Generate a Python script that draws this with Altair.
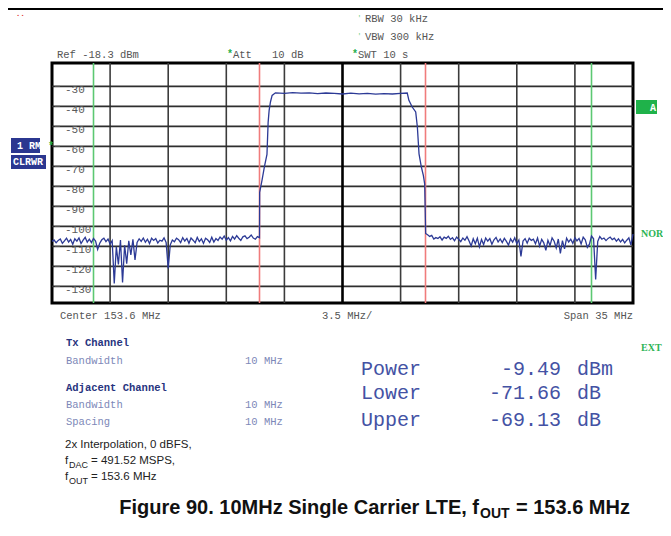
import altair as alt
import numpy as np
import pandas as pd

# ---------------- data ----------------
CENTER_MHZ = 153.6
SPAN_MHZ = 35.0
DIV_MHZ = 3.5
REF_DBM = -18.3
BOTTOM_DBM = -138.3

# sweep grid for the noise floor (MHz offset from centre)
left_noise_start, right_noise_start, sweep_step = -17.5, 5.125, 0.125

left_noise_db = [
    -107.5, -106.8, -108.2, -107.0, -106.3, -108.5, -107.2, -105.9, -107.8, -106.5,
    -108.9, -106.2, -107.4, -105.8, -108.6, -106.9, -105.5, -107.9, -106.4, -108.1,
    -106.0, -107.3, -111.5, -108.4, -106.7, -105.9, -107.6, -106.3, -108.8, -107.1,
    -128.5, -110.2, -119.0, -106.8, -128.0, -109.4, -118.6, -107.2, -114.3, -106.5,
    -116.8, -108.0, -106.2, -107.5, -105.8, -107.9, -106.4, -108.6, -105.9, -107.0,
    -106.1, -108.3, -106.9, -107.4, -105.7, -108.0, -121.0, -109.2, -106.8, -107.7,
    -105.9, -106.6, -108.1, -105.6, -107.3, -106.0, -108.4, -105.8, -106.9, -108.2,
    -105.5, -107.6, -106.2, -108.5, -105.9, -106.7, -108.0, -105.4, -107.8, -106.1,
    -107.0, -105.3, -106.4, -104.8, -106.9, -105.6, -107.2, -105.0, -106.3, -104.6,
    -105.9, -107.0, -105.2, -104.7, -106.1, -105.4, -104.3, -105.8, -106.4, -105.1,
    -105.6,
]

right_noise_db = [
    -104.2, -105.0, -104.5, -106.3, -105.6, -106.1, -105.2, -106.8, -105.4, -106.0,
    -104.9, -106.5, -105.7, -107.2, -105.3, -106.4, -107.6, -105.8, -106.9, -105.1,
    -107.3, -109.8, -106.2, -108.7, -105.9, -110.2, -106.5, -109.1, -105.8, -107.4,
    -106.1, -108.9, -106.7, -105.5, -107.8, -106.3, -108.1, -106.0, -107.5, -109.4,
    -106.2, -107.9, -105.7, -108.6, -106.8, -115.0, -107.3, -106.1, -108.4, -105.9,
    -107.0, -106.4, -108.7, -105.8, -109.9, -106.5, -108.2, -112.0, -106.9, -109.6,
    -105.7, -107.4, -110.8, -106.3, -113.5, -107.1, -111.2, -105.9, -107.8, -106.4,
    -108.5, -105.6, -107.2, -106.0, -108.8, -105.4, -106.7, -110.5, -108.9, -104.8,
    -106.2, -126.5, -107.5, -105.1, -106.4, -105.8, -107.1, -106.0, -105.3, -106.6,
    -105.9, -107.4, -106.2, -107.8, -106.5, -108.2, -106.9, -105.7, -109.3, -103.8,
]

# 10 MHz LTE carrier (MHz offset, dBm)
carrier_off = [-4.99, -4.85, -4.70, -4.55, -4.48, -4.42, -4.34, -4.24, -4.04,
               -3.50, -3.00, -2.50, -2.00, -1.50, -1.00, -0.50, 0.00, 0.50,
               1.00, 1.50, 2.00, 2.50, 3.00, 3.50, 3.90, 4.00, 4.20, 4.41,
               4.51, 4.61, 4.75, 4.87, 4.95, 5.01]
carrier_db = [-83.0, -77.0, -70.0, -64.0, -48.0, -42.0, -37.8, -34.5, -33.2,
              -33.5, -33.1, -33.4, -33.2, -33.6, -33.3, -33.5, -33.8, -33.4,
              -33.7, -33.5, -33.9, -33.6, -33.8, -33.5, -33.3, -37.0, -40.3, -42.8,
              -50.3, -63.7, -70.3, -74.5, -78.7, -103.5]

# channel markers (MHz offset): Tx channel edges (red), adjacent channel outer edges (green)
tx_edges = [-5.0, 5.0]
adj_edges = [-15.0, 15.0]

y_ticks = [-30, -40, -50, -60, -70, -80, -90, -100, -110, -120, -130]
x_grid_div = [1, 2, 3, 4, 6, 7, 8, 9]

# measurement results
result_names = ["Power", "Lower", "Upper"]
result_values = ["-9.49", "-71.66", "-69.13"]
result_units = ["dBm", "dB", "dB"]

# ---------------- tables ----------------
lf = left_noise_start + sweep_step * np.arange(len(left_noise_db))
rf = right_noise_start + sweep_step * np.arange(len(right_noise_db))
trace = pd.DataFrame({
    "f": CENTER_MHZ + np.concatenate([lf, np.array(carrier_off), rf]),
    "db": left_noise_db + carrier_db + right_noise_db,
})

fmin = CENTER_MHZ - SPAN_MHZ / 2
fmax = CENTER_MHZ + SPAN_MHZ / 2
xs = alt.Scale(domain=[fmin, fmax], nice=False, zero=False)
ys = alt.Scale(domain=[BOTTOM_DBM, REF_DBM], nice=False, zero=False)

W, H = 581, 240

vgrid = pd.DataFrame({"f": [fmin + DIV_MHZ * k for k in x_grid_div]})
cgrid = pd.DataFrame({"f": [CENTER_MHZ]})
hgrid = pd.DataFrame({"db": y_ticks})
ylab = pd.DataFrame({"db": y_ticks, "t": [str(v) for v in y_ticks]})
markers = pd.DataFrame({
    "f": [CENTER_MHZ + v for v in tx_edges] + [CENTER_MHZ + v for v in adj_edges],
    "c": ["tx", "tx", "adj", "adj"],
})

X = lambda: alt.X("f:Q", scale=xs, axis=None)
Y = lambda: alt.Y("db:Q", scale=ys, axis=None)

grid_v = alt.Chart(vgrid).mark_rule(color="#3c3c3c", strokeWidth=1.6).encode(x=X())
grid_c = alt.Chart(cgrid).mark_rule(color="#000000", strokeWidth=2.6).encode(x=X())
grid_h = alt.Chart(hgrid).mark_rule(color="#2e2e2e", strokeWidth=1.6).encode(y=Y())
mark_lines = alt.Chart(markers).mark_rule(strokeWidth=1.6).encode(
    x=X(),
    color=alt.Color("c:N", scale=alt.Scale(domain=["tx", "adj"], range=["#f07c7c", "#5cc872"]), legend=None),
)
trace_line = alt.Chart(trace).mark_line(color="#2c3a96", strokeWidth=1.3, interpolate="linear").encode(
    x=X(), y=Y()
)
ytick_marks = alt.Chart(hgrid).mark_rule(color="#555", strokeWidth=1).encode(
    y=Y(), x=alt.value(3), x2=alt.value(8)
)
ylabels = alt.Chart(ylab).mark_text(
    align="left", baseline="middle", font="Liberation Mono", fontSize=11, color="#5a5a5a", dy=3.5
).encode(y=Y(), x=alt.value(13), text="t:N")

# ---------------- annotations (page px -> plot-relative px) ----------------
OX, OY = 52, 63


def txt(rows, **style):
    df = pd.DataFrame(rows, columns=["px", "py", "t"])
    df["px"] = df["px"] - OX
    df["py"] = df["py"] - OY
    base = dict(align="left", baseline="middle")
    base.update(style)
    return alt.Chart(df).mark_text(**base).encode(
        x=alt.X("px:Q", scale=None, axis=None),
        y=alt.Y("py:Q", scale=None, axis=None),
        text="t:N",
    )


def boxes(rows, color):
    df = pd.DataFrame(rows, columns=["x1", "y1", "x2", "y2"])
    for c in ["x1", "x2"]:
        df[c] = df[c] - OX
    for c in ["y1", "y2"]:
        df[c] = df[c] - OY
    return alt.Chart(df).mark_rect(color=color).encode(
        x=alt.X("x1:Q", scale=None, axis=None), x2="x2:Q",
        y=alt.Y("y1:Q", scale=None, axis=None), y2="y2:Q",
    )


top_rule = alt.Chart(pd.DataFrame({"a": [0]})).mark_rule(color="#000", strokeWidth=2).encode(
    x=alt.value(-OX + 8), x2=alt.value(671 - OX), y=alt.value(9 - OY)
)

header = txt([
    (365, 19, "RBW 30 kHz"),
    (365, 37, "VBW 300 kHz"),
    (57, 55, "Ref -18.3 dBm"),
    (233, 55, "Att"),
    (272, 55, "10 dB"),
    (358, 55, "SWT 10 s"),
    (60, 316, "Center 153.6 MHz"),
    (322, 316, "3.5 MHz/"),
], font="Liberation Mono", fontSize=10.5, color="#555555")
span_txt = txt([(633, 316, "Span 35 MHz")], align="right", font="Liberation Mono",
               fontSize=10.5, color="#555555")
stars = txt([
    (227, 54, "*"), (352, 54, "*"), (48, 146, "*"),
], font="Liberation Mono", fontSize=10, color="#22b04a", fontWeight="bold")
ticks_green = txt([(357, 18, "'"), (357, 36, "'")], font="Liberation Mono", fontSize=8, color="#7ad08a")
red_dots = txt([(17, 14, ". .")], font="Liberation Sans", fontSize=8, color="#e03030", fontWeight="bold")

left_boxes = boxes([(11, 138, 40, 153), (11, 155, 46, 169)], "#2b3790")
left_box_txt = txt([(17, 146, "1 RM"), (13, 162, "CLRWR")], font="Liberation Mono", fontSize=10,
                   fontWeight="bold", color="#ffffff")
a_box = boxes([(636, 100, 657, 114)], "#1fb24a")
a_txt = txt([(650, 108, "A")], font="Liberation Mono", fontSize=10, fontWeight="bold", color="#ffffff")
green_lbl = txt([(641, 234, "NOR"), (641, 348, "EXT")], font="Liberation Serif", fontSize=10,
                fontWeight="bold", color="#2cb455")

tx_bold = txt([(66, 343, "Tx Channel"), (66, 388, "Adjacent Channel")], font="Liberation Mono",
              fontSize=10.5, fontWeight="bold", color="#27337e")
tx_light = txt([
    (66, 361, "Bandwidth"), (245, 361, "10 MHz"),
    (66, 405, "Bandwidth"), (245, 405, "10 MHz"),
    (66, 422, "Spacing"), (245, 422, "10 MHz"),
], font="Liberation Mono", fontSize=10.5, color="#7d88b8")

res_y = [369, 393, 420]
res_style = dict(font="Liberation Mono", fontSize=20, color="#4452a4")
res_names = txt([(361, y, n) for y, n in zip(res_y, result_names)], **res_style)
res_vals = txt([(561, y, v) for y, v in zip(res_y, result_values)], align="right", **res_style)
res_units = txt([(577, y, u) for y, u in zip(res_y, result_units)], **res_style)

notes = txt([
    (65, 445, "2x Interpolation, 0 dBFS,"),
    (65, 461, "f"),
    (91, 461, "= 491.52 MSPS,"),
    (65, 477, "f"),
    (91, 477, "= 153.6 MHz"),
], font="Liberation Sans", fontSize=11.5, color="#222222")
notes_sub = txt([(69, 465, "DAC"), (69, 481, "OUT")], font="Liberation Sans", fontSize=9, color="#222222")

cap_main = txt([(479, 508, "Figure 90. 10MHz Single Carrier LTE, f")], align="right",
               font="Liberation Sans", fontSize=20, fontWeight="bold", color="#111111")
cap_sub = txt([(480, 514, "OUT")], font="Liberation Sans", fontSize=14, fontWeight="bold", color="#111111")
cap_end = txt([(516, 508, "= 153.6 MHz")], font="Liberation Sans", fontSize=20, fontWeight="bold",
              color="#111111")

chart = alt.layer(
    grid_v, grid_h, grid_c, mark_lines, trace_line, ytick_marks, ylabels,
    top_rule, header, span_txt, stars, ticks_green, red_dots,
    left_boxes, left_box_txt, a_box, a_txt, green_lbl,
    tx_bold, tx_light, res_names, res_vals, res_units,
    notes, notes_sub, cap_main, cap_sub, cap_end,
).properties(
    width=W, height=H,
    autosize=alt.AutoSizeParams(type="none"),
    padding={"left": OX - 8, "top": OY - 8, "right": 655 - (OX - 8) - W, "bottom": 520 - (OY - 8) - H},
).configure_view(stroke="#000000", strokeWidth=3)

chart.save("out.html", embed_options={"renderer": "svg", "actions": False})
